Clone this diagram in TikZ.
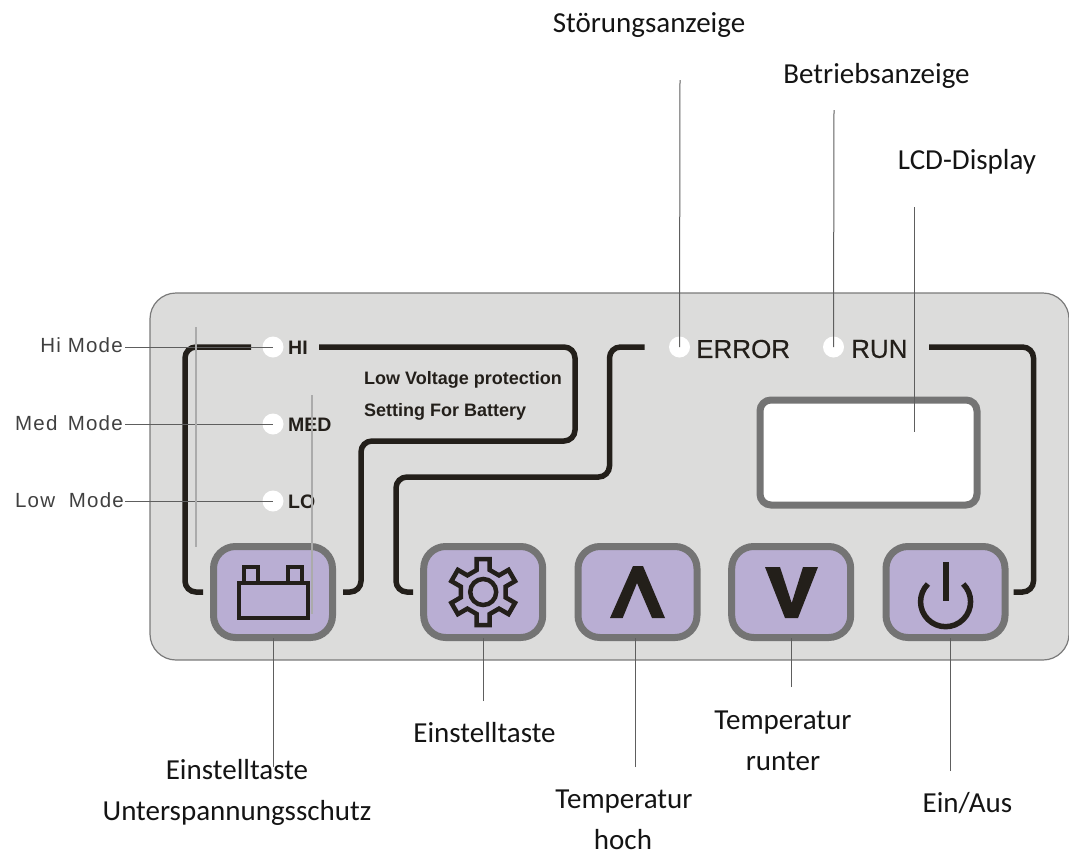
\documentclass[tikz,border=0pt]{standalone}
\usepackage{fontspec}
\setmainfont{Carlito}
\newfontfamily\arial{Liberation Sans}
\newfontfamily\arialmed[FakeBold=0.35]{Liberation Sans}
\newfontfamily\arialsp[LetterSpace=6]{Liberation Sans}
\definecolor{panelfill}{HTML}{DCDCDB}
\definecolor{panelline}{HTML}{7A7A7A}
\definecolor{btnfill}{HTML}{B9AED3}
\definecolor{btnline}{HTML}{747474}
\definecolor{ink}{HTML}{231F1A}
\definecolor{callout}{HTML}{5E5E5E}
\definecolor{ghost}{HTML}{ABABAB}
\definecolor{txt}{HTML}{141414}
\tikzset{
  btn/.style={draw=btnline,fill=btnfill,line width=7pt,rounded corners=22pt,minimum width=119pt,minimum height=91pt,inner sep=0pt,outer sep=0pt},
  lcd/.style={draw=btnline,fill=white,line width=7pt,rounded corners=11pt,minimum width=217pt,minimum height=105pt,inner sep=0pt,outer sep=0pt},
  led/.style={circle,fill=white,minimum size=21pt,inner sep=0pt,outer sep=0pt},
  band/.style={draw=ink,line width=5.5pt,rounded corners=11pt},
  icon/.style={draw=ink,line width=4.5pt,miter limit=10},
  solidicon/.style={fill=ink},
  leader/.style={draw=callout,line width=1pt},
  stray/.style={draw=ghost,line width=1.6pt},
  lab/.style={font=\fontsize{29}{32}\selectfont,text=txt,inner sep=0pt,anchor=base},
  modelab/.style={font=\arialsp\fontsize{20.5}{24}\selectfont,text=black!75,inner sep=0pt,anchor=east},
  ledlab/.style={font=\arial\bfseries\fontsize{19.5}{22}\selectfont,text=ink,inner sep=0pt,anchor=west},
  smalllab/.style={font=\arial\bfseries\fontsize{18}{20}\selectfont,text=ink,inner sep=0pt,anchor=west},
  biglab/.style={font=\arialmed\fontsize{26}{28}\selectfont,text=ink,inner sep=0pt,anchor=west},
}
\begin{document}
\begin{tikzpicture}[x=1pt,y=-1pt]
\useasboundingbox (0,0) rectangle (1069,852);
% panel
\node[name=panel,draw=panelline,fill=panelfill,line width=1.2pt,rounded corners=26pt,minimum width=919pt,minimum height=367pt,inner sep=0pt,outer sep=0pt] at (609.5,476.5) {};
% bands
\draw[band] (251,347) -- (185,347) -- (185,592) -- (203,592);
\draw[band] (319,347) -- (575,347) -- (575,441) -- (361,441) -- (361,592) -- (343,592);
\draw[band] (644.5,347) -- (609.5,347) -- (609.5,477) -- (396,477) -- (396,592) -- (413,592);
\draw[band] (929,347) -- (1033.5,347) -- (1033.5,592) -- (1013.5,592);
% buttons
\node[btn] (batt) at (273,592) {};
\node[btn] (gear) at (483.2,592) {};
\node[btn] (up) at (637.5,592) {};
\node[btn] (down) at (791.2,592) {};
\node[btn] (power) at (945.5,592) {};
\node[lcd] (lcdbox) at (868.5,452.5) {};
% battery icon
\draw[icon] (239,583) rectangle (308,618);
\draw[icon] (244,583) -- (244,567) -- (258,567) -- (258,583);
\draw[icon] (288,583) -- (288,567) -- (302,567) -- (302,583);
% gear icon
\draw[icon,line join=miter] ([shift={(483.2,592)},rotate=0]-6.5,22)
  \foreach \a in {0,60,...,300}{
    -- ([shift={(483.2,592)},rotate=\a]-6.5,22)
    -- ([shift={(483.2,592)},rotate=\a]-6.5,33)
    -- ([shift={(483.2,592)},rotate=\a]6.5,33)
    -- ([shift={(483.2,592)},rotate=\a]6.5,22)
  } -- cycle;
\draw[icon] (483.2,592) circle[radius=13];
% arrows
\fill[solidicon] (610,618) -- (633,566) -- (643,566) -- (665,618) -- (652,618) -- (637,583) -- (622.7,618) -- cycle;
\fill[solidicon] (765,567) -- (780,567) -- (791.7,603) -- (803,567) -- (818,567) -- (798,618) -- (785,618) -- cycle;
% power icon
\fill[solidicon] (942.6,562) rectangle (948.6,601);
\draw[draw=ink,line width=5.5pt] (927.9,584) arc[start angle=225,end angle=-45,radius=25];
% LEDs
\node[led] (hi) at (273,347) {};
\node[led] (med) at (273,424) {};
\node[led] (lo) at (273,501) {};
\node[led] (err) at (679.5,347) {};
\node[led] (run) at (833.5,347) {};
% panel texts
\node[ledlab] (hit) at (288,348) {HI};
\node[ledlab] (medt) at (288,425) {MED};
\node[ledlab] (lot) at (288,502) {LO};
\node[smalllab] (lv1) at (364,380) {Low Voltage protection};
\node[smalllab] (lv2) at (364,412) {Setting For Battery};
\node[biglab] (errt) at (696,349) {ERROR};
\node[biglab] (runt) at (851,349) {RUN};
% mode labels
\node[modelab] (hilab) at (123,345) {Hi Mode};
\node[modelab] (medlab) at (123,423) {Med\, Mode};
\node[modelab] (lolab) at (124,500) {Low\,\, Mode};
% outer labels
\node[lab] (tstoer) at (649,32) {Störungsanzeige};
\node[lab] (tbetr) at (876.5,83) {Betriebsanzeige};
\node[lab] (tlcd) at (967,169) {LCD-Display};
\node[lab] (teinst1) at (237,779) {Einstelltaste};
\node[lab] (tunter) at (237,820) {Unterspannungsschutz};
\node[lab] (teinst2) at (484.5,742) {Einstelltaste};
\node[lab] (ttemp1) at (624,808) {Temperatur};
\node[lab] (thoch) at (623,849) {hoch};
\node[lab] (ttemp2) at (783,729) {Temperatur};
\node[lab] (trunter) at (783,770) {runter};
\node[lab] (teinaus) at (967.5,812) {Ein/Aus};
% leader ends
\coordinate (c1) at (680,80);
\coordinate (c2) at (834,110);
\coordinate (c3) at (914,207);
\coordinate (c3b) at (914,432);
\coordinate (c4) at (273,767);
\coordinate (c5) at (483,701);
\coordinate (c6) at (635.7,767);
\coordinate (c7) at (791,687);
\coordinate (c8) at (950.7,771);
\draw[leader] (hilab.east) ++(2,2) -- (hi.center);
\draw[leader] (medlab.east) ++(2,1) -- (med.center);
\draw[leader] (lolab.east) ++(1,1) -- (lo.center);
\draw[leader] (c1) -- (err.center);
\draw[leader] (c2) -- (run.center);
\draw[leader] (c3) -- (c3b);
\draw[leader] (c4) -- (c4 |- batt.south);
\draw[leader] (c5) -- (c5 |- gear.south);
\draw[leader] (c6) -- (c6 |- up.south);
\draw[leader] (c7) -- (c7 |- down.south);
\draw[leader] (c8) -- (c8 |- power.south);
% faint stray lines
\coordinate (s1a) at (196,327);
\coordinate (s1b) at (196,547);
\coordinate (s2a) at (312,395);
\coordinate (s2b) at (312,614);
\draw[stray] (s1a) -- (s1b);
\draw[stray] (s2a) -- (s2b);
\end{tikzpicture}
\end{document}
